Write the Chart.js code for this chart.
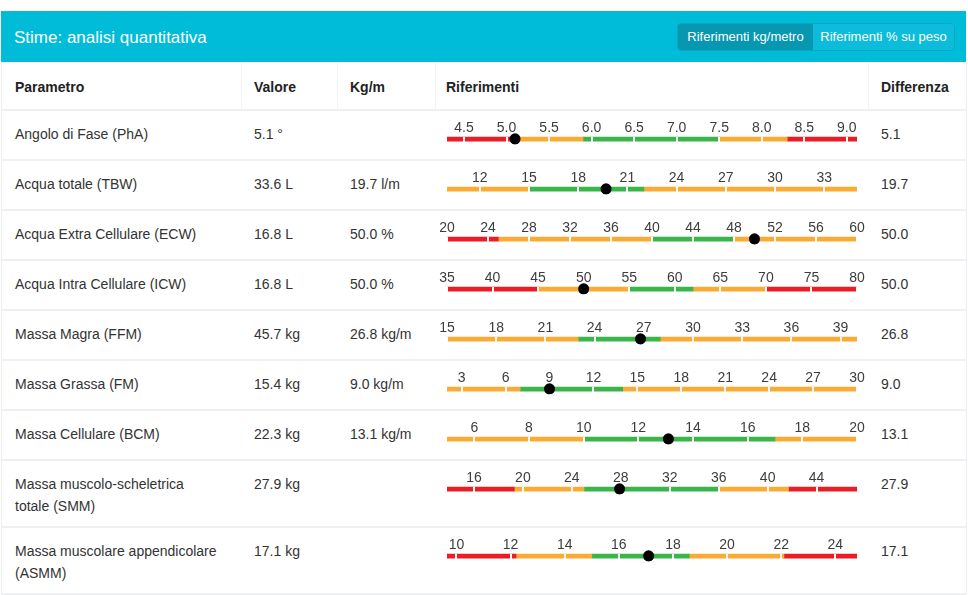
<!DOCTYPE html>
<html><head><meta charset="utf-8">
<script src="https://cdn.jsdelivr.net/npm/chart.js@4.4.1/dist/chart.umd.min.js"></script>
<style>
body{margin:0;background:#fff;font-family:"Liberation Sans",Arial,sans-serif;color:#333;width:968px;height:595px;position:relative;overflow:hidden}
.abs{position:absolute}
#hdr{left:1px;top:11px;width:965px;height:51px;background:#00bcd9}
#title{left:13px;top:0;line-height:53px;font-size:17px;color:#fff}
#btns{left:676px;top:12px;width:276px;height:26px;border-radius:4px;overflow:hidden;border:1px solid #0aa7c3;display:flex;font-size:13px;color:#fff}
#btns div{line-height:26px;text-align:center}
#b1{width:135px;background:#0797b1}
#b2{width:141px;background:#0cbcda}
.th{font-weight:bold;color:#222;font-size:14px;line-height:48px;top:63px}
.td{font-size:14px;line-height:22px;color:#333}
.hl{height:2px;background:#eef0f2;left:1px;width:965px}
.vl{width:1px;background:#f2f3f4;top:62px;height:48px}
.cw{width:433px;height:44px;left:435px}
</style></head>
<body>
<div id="hdr" class="abs">
  <div id="title" class="abs">Stime: analisi quantitativa</div>
  <div id="btns" class="abs"><div id="b1">Riferimenti kg/metro</div><div id="b2">Riferimenti % su peso</div></div>
</div>
<div class="abs" style="left:1px;top:62px;width:964px;height:532px;border-left:1px solid #eceeef;border-right:1px solid #eceeef"></div>
<div class="abs vl" style="left:241px"></div>
<div class="abs vl" style="left:337px"></div>
<div class="abs vl" style="left:435px"></div>
<div class="abs vl" style="left:868px"></div>
<div class="abs th" style="left:15px">Parametro</div>
<div class="abs th" style="left:254px">Valore</div>
<div class="abs th" style="left:350px">Kg/m</div>
<div class="abs th" style="left:446px">Riferimenti</div>
<div class="abs th" style="left:881px">Differenza</div>
<div id="rows"></div>
<script>
// ---- data ----
const parametri = ["Angolo di Fase (PhA)", "Acqua totale (TBW)", "Acqua Extra Cellulare (ECW)", "Acqua Intra Cellulare (ICW)", "Massa Magra (FFM)", "Massa Grassa (FM)", "Massa Cellulare (BCM)", "Massa muscolo-scheletrica<br>totale (SMM)", "Massa muscolare appendicolare<br>(ASMM)"];
const valori = ["5.1 °", "33.6 L", "16.8 L", "16.8 L", "45.7 kg", "15.4 kg", "22.3 kg", "27.9 kg", "17.1 kg"];
const kgMetro = ["", "19.7 l/m", "50.0 %", "50.0 %", "26.8 kg/m", "9.0 kg/m", "13.1 kg/m", "", ""];
const differenze = ["5.1", "19.7", "50.0", "50.0", "26.8", "9.0", "13.1", "27.9", "17.1"];
const marcatori = [5.1, 19.7, 50.0, 50.0, 26.8, 9.0, 13.1, 27.9, 17.1];
const tickValori = [
  [4.5, 5.0, 5.5, 6.0, 6.5, 7.0, 7.5, 8.0, 8.5, 9.0],
  [12, 15, 18, 21, 24, 27, 30, 33],
  [20, 24, 28, 32, 36, 40, 44, 48, 52, 56, 60],
  [35, 40, 45, 50, 55, 60, 65, 70, 75, 80],
  [15, 18, 21, 24, 27, 30, 33, 36, 39],
  [3, 6, 9, 12, 15, 18, 21, 24, 27, 30],
  [6, 8, 10, 12, 14, 16, 18, 20],
  [16, 20, 24, 28, 32, 36, 40, 44],
  [10, 12, 14, 16, 18, 20, 22, 24]
];
const tickDecimali = [1, 0, 0, 0, 0, 0, 0, 0, 0];
const fasceLimiti = [
  [4.3, 5.05, 5.9, 7.5, 8.3, 9.12],
  [10, 15, 22, 35],
  [20, 25, 40, 48, 60],
  [35, 45, 55, 62, 70, 80],
  [15, 23, 28, 40],
  [2, 7, 14, 30],
  [5, 10, 17, 20],
  [13.8, 19.3, 25, 36, 41.7, 47.3],
  [9.65, 12.2, 15, 18.6, 22.1, 24.8]
];
const fasceTipi = [
  ["r", "o", "g", "o", "r"],
  ["o", "g", "o"],
  ["r", "o", "g", "o"],
  ["r", "o", "g", "o", "r"],
  ["o", "g", "o"],
  ["o", "g", "o"],
  ["o", "g", "o"],
  ["r", "o", "g", "o", "r"],
  ["r", "o", "g", "o", "r"]
];
const rigaTop = [110, 160, 210, 260, 310, 360, 410, 460, 527];
const rigaFine = 594;
const colori = { r: "#ed1c24", o: "#fbaa34", g: "#39b54a" };

// ---- charts ----
const dotOnTop = {
  id: 'dotOnTop',
  afterDraw(chart) {
    const meta = chart.getDatasetMeta(chart.data.datasets.length - 1);
    meta.data.forEach(el => el.draw(chart.ctx));
  }
};

function makeChart(cv, i) {
  const lim = fasceLimiti[i];
  const datasets = fasceTipi[i].map((tp, k) => ({
    type: 'bar',
    data: [{ x: [lim[k], lim[k + 1]], y: 0 }],
    backgroundColor: colori[tp],
    borderWidth: 0,
    borderSkipped: false,
    barThickness: 5,
    grouped: false
  }));
  datasets.push({
    type: 'scatter',
    data: [{ x: marcatori[i], y: 0 }],
    backgroundColor: '#000',
    borderWidth: 0,
    pointRadius: 5.5
  });
  new Chart(cv, {
    type: 'bar',
    data: { datasets },
    plugins: [dotOnTop],
    options: {
      indexAxis: 'y',
      responsive: true,
      maintainAspectRatio: false,
      animation: false,
      events: [],
      layout: { padding: { left: 12, right: 11, top: 0, bottom: 0 } },
      plugins: { legend: { display: false }, tooltip: { enabled: false } },
      scales: {
        x: {
          type: 'linear',
          position: 'top',
          min: lim[0],
          max: lim[lim.length - 1],
          afterBuildTicks: (s) => { s.ticks = tickValori[i].map(v => ({ value: v })); },
          ticks: {
            callback: (v) => Number(v).toFixed(tickDecimali[i]),
            font: { family: '"Liberation Sans", Arial, sans-serif', size: 14 },
            color: '#3d3d3d',
            padding: 0,
            maxRotation: 0,
            autoSkip: false,
            z: 1
          },
          grid: { color: '#ffffff', lineWidth: 2, drawTicks: false, z: 1 },
          border: { display: false }
        },
        y: { type: 'linear', min: -9.9, max: 1, offset: false, display: false }
      }
    }
  });
}

// ---- layout ----
const rows = document.getElementById('rows');
function add(cls, style, html) {
  const d = document.createElement('div');
  d.className = 'abs ' + cls; d.setAttribute('style', style); d.innerHTML = html || '';
  rows.appendChild(d); return d;
}
add('hl', 'top:109px');
rigaTop.forEach((t, i) => {
  const bottom = (i + 1 < rigaTop.length ? rigaTop[i + 1] : rigaFine);
  add('hl', 'top:' + (bottom - 1) + 'px');
  add('td', 'left:15px;top:' + (t + 13) + 'px', parametri[i]);
  add('td', 'left:254px;top:' + (t + 13) + 'px', valori[i]);
  add('td', 'left:350px;top:' + (t + 13) + 'px', kgMetro[i]);
  add('td', 'left:881px;top:' + (t + 13) + 'px', differenze[i]);
  const wrap = add('cw', 'top:' + (t + 10) + 'px');
  const cv = document.createElement('canvas');
  wrap.appendChild(cv);
  makeChart(cv, i);
});
</script>
</body></html>
